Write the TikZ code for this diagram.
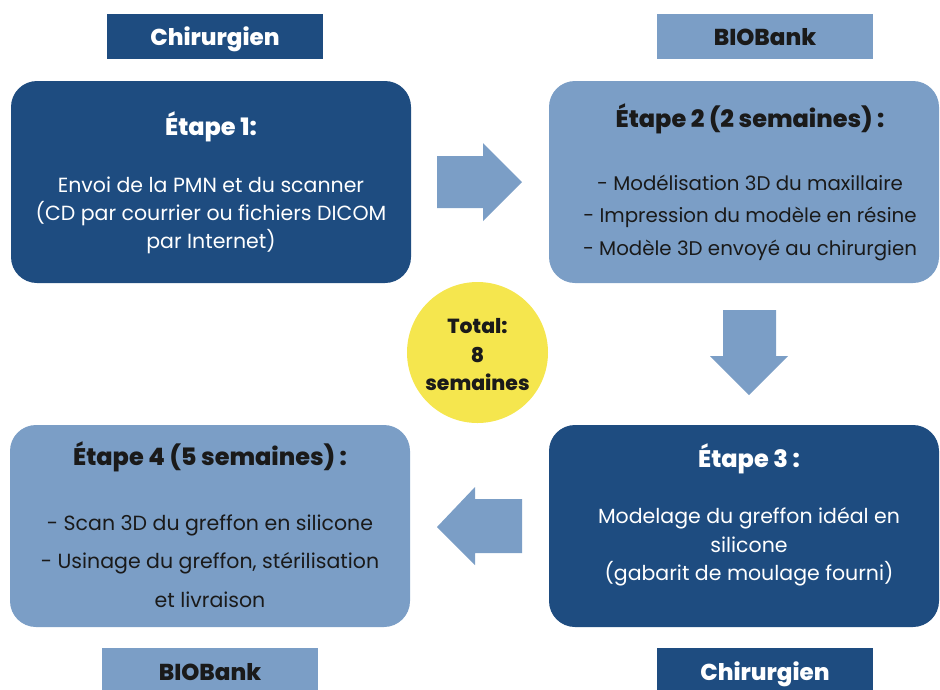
\documentclass[tikz,border=0pt]{standalone}
\usepackage{fontspec}
\setmainfont{Poppins}[BoldFont={Poppins ExtraBold}]
\definecolor{dkblue}{HTML}{1E4C80}
\definecolor{ltblue}{HTML}{7B9EC6}
\definecolor{yel}{HTML}{F5E64E}
\definecolor{ink}{HTML}{1A1A1A}
\tikzset{
  bigbox/.style={rounded corners=26pt, inner sep=0pt, draw=none},
  tag/.style={inner sep=0pt, draw=none},
  lb/.style={anchor=base, font=\bfseries\fontsize{23}{26}\selectfont, inner sep=0pt},
  hd/.style={anchor=base, font=\bfseries\fontsize{24}{26}\selectfont, inner sep=0pt},
  ct/.style={anchor=base, font=\bfseries\fontsize{20.4}{24}\selectfont, inner sep=0pt},
  bd/.style={anchor=base, font=\fontsize{20.5}{24}\selectfont, inner sep=0pt},
  bdb/.style={anchor=base, font=\fontsize{19.8}{24}\selectfont, inner sep=0pt},
  blockarrow/.style={fill=ltblue, draw=none},
}
\begin{document}
\begin{tikzpicture}[x=1pt,y=-1pt]
\useasboundingbox (0,0) rectangle (940,689);
% tags
\node[tag, fill=dkblue, minimum width=216pt, minimum height=45pt] (t1) at (215,36.5) {};
\node[tag, fill=ltblue, minimum width=216pt, minimum height=45pt] (t2) at (765,36.5) {};
\node[tag, fill=ltblue, minimum width=216pt, minimum height=45pt] (t4) at (210,670.5) {};
\node[tag, fill=dkblue, minimum width=216pt, minimum height=45pt] (t3) at (765,670.5) {};
\node[lb, text=white] (t1t) at (215,45) {Chirurgien};
\node[lb, text=ink] (t2t) at (765,45) {BIOBank};
\node[lb, text=ink] (t4t) at (210,680) {BIOBank};
\node[lb, text=white] (t3t) at (765,680) {Chirurgien};
% boxes
\node[bigbox, fill=dkblue, minimum width=400pt, minimum height=202pt] (b1) at (211,182) {};
\node[bigbox, fill=ltblue, minimum width=390pt, minimum height=202pt] (b2) at (744,182) {};
\node[bigbox, fill=dkblue, minimum width=390pt, minimum height=202pt] (b3) at (744,526) {};
\node[bigbox, fill=ltblue, minimum width=400pt, minimum height=202pt] (b4) at (210,526) {};
% box 1 text
\node[hd, text=white] (h1) at (211,135) {Étape 1:};
\node[bd, text=white] (l11) at (211,192) {Envoi de la PMN et du scanner};
\node[bd, text=white] (l12) at (211,220) {(CD par courrier ou fichiers DICOM};
\node[bd, text=white] (l13) at (211,248) {par Internet)};
% box 2 text
\node[hd, text=ink] (h2) at (750,127) {Étape 2 (2 semaines) :};
\node[bdb, text=ink] (l21) at (750,190) {- Modélisation 3D du maxillaire};
\node[bdb, text=ink] (l22) at (750,222) {- Impression du modèle en résine};
\node[bdb, text=ink] (l23) at (750,255) {- Modèle 3D envoyé au chirurgien};
% box 3 text
\node[hd, text=white] (h3) at (749,467) {Étape 3 :};
\node[bd, text=white] (l31) at (749,523) {Modelage du greffon idéal en};
\node[bd, text=white] (l32) at (749,552) {silicone};
\node[bd, text=white] (l33) at (749,580) {(gabarit de moulage fourni)};
% box 4 text
\node[hd, text=ink] (h4) at (210,465) {Étape 4 (5 semaines) :};
\node[bd, text=ink] (l41) at (210,530) {- Scan 3D du greffon en silicone};
\node[bd, text=ink] (l42) at (210,568) {- Usinage du greffon, stérilisation};
\node[bd, text=ink] (l43) at (210,607) {et livraison};
% circle
\node[circle, fill=yel, minimum size=141pt, inner sep=0pt] (tot) at (477.5,352.5) {};
\node[ct, text=ink] (c1) at (477.5,333) {Total:};
\node[ct, text=ink] (c2) at (477.5,362) {8};
\node[ct, text=ink] (c3) at (477.5,390) {semaines};
% block arrows
\fill[blockarrow] (437,156) -- (483,156) -- (483,143) -- (522,182) -- (483,221) -- (483,208) -- (437,208) -- cycle;
\fill[blockarrow] (723,310) -- (776,310) -- (776,356) -- (788,356) -- (749,395) -- (710,356) -- (723,356) -- cycle;
\fill[blockarrow] (522,499) -- (475,499) -- (475,487) -- (437,527) -- (475,565) -- (475,553) -- (522,553) -- cycle;
\end{tikzpicture}
\end{document}
